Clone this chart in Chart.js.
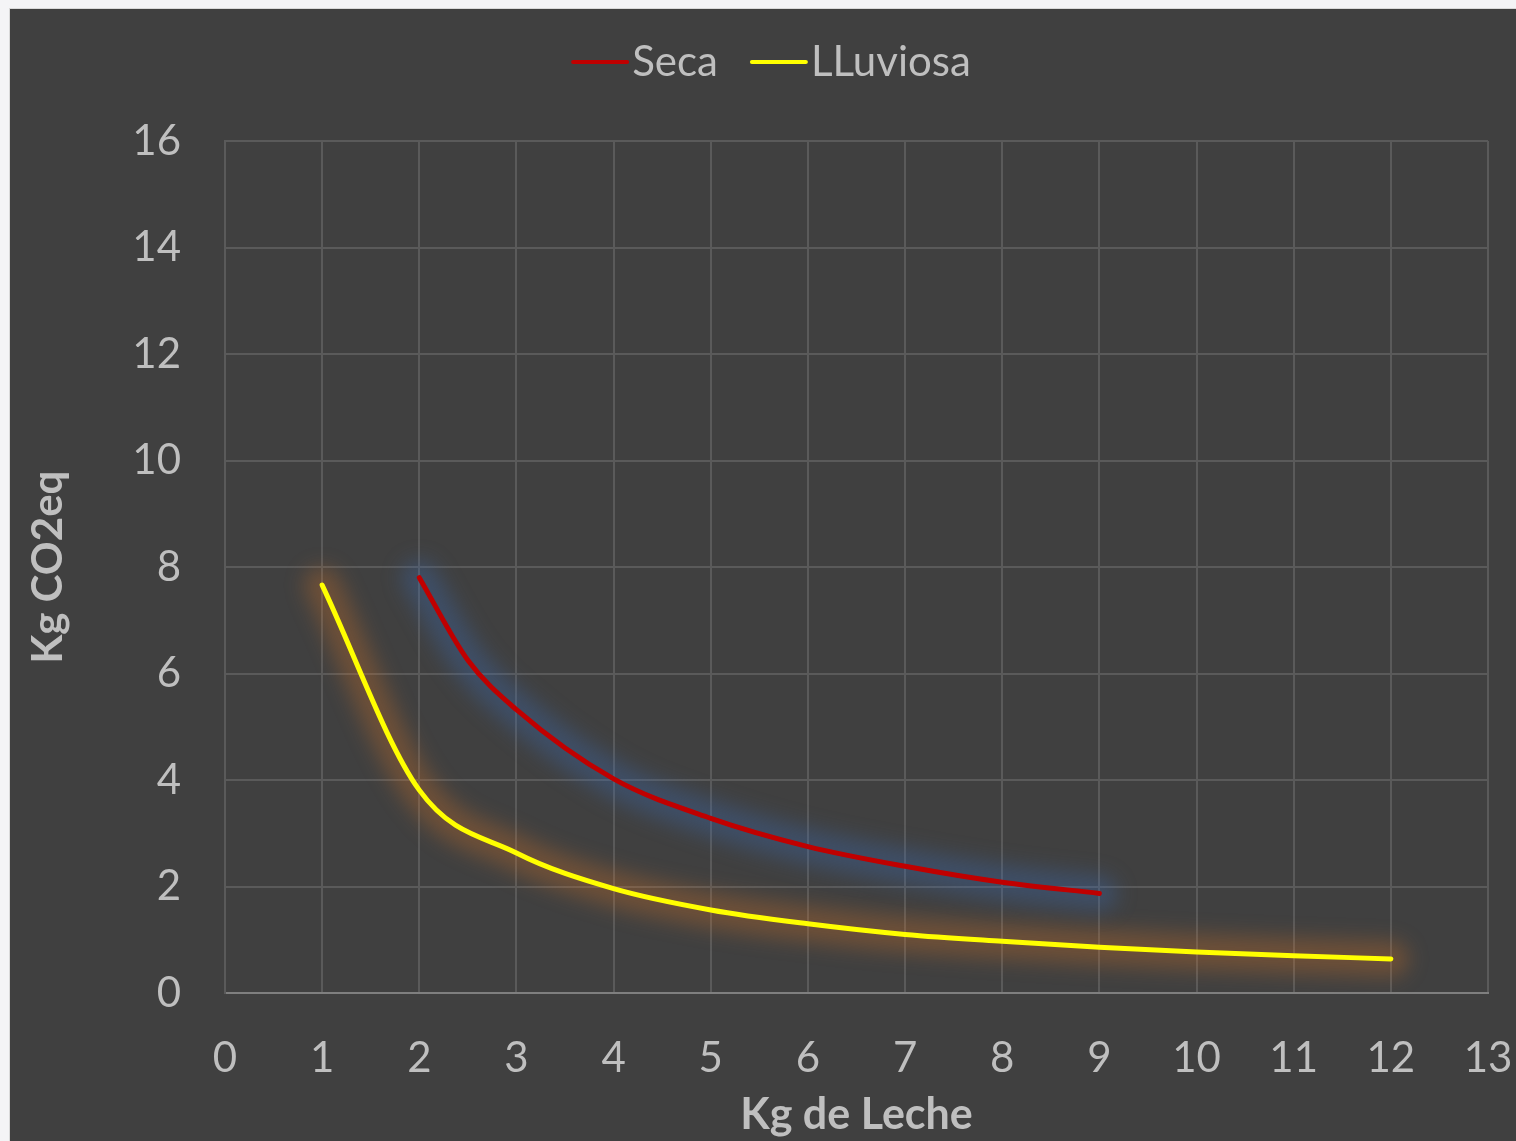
<!DOCTYPE html>
<html>
<head>
<meta charset="utf-8">
<script src="https://cdn.jsdelivr.net/npm/chart.js@4.4.1/dist/chart.umd.min.js"></script>
<style>
  html, body { margin: 0; padding: 0; background: #f4f4f6; }
  #frame {
    position: absolute; left: 9px; top: 8px; width: 1507px; height: 1133px;
    background: #d9d9d9;
  }
  #wrap {
    position: absolute; left: 1px; top: 1px; width: 1506px; height: 1132px;
    background: #404040;
  }
  canvas { display: block; }
</style>
</head>
<body>
<div id="frame"><div id="wrap"><canvas id="chart" width="1506" height="1132"></canvas></div></div>
<script>
// Milk production (kg) vs. emissions (kg CO2eq), dry and rainy season
const secaX = [2, 2.5, 3, 4, 5, 6, 7, 8, 9];
const secaY = [7.8, 6.25, 5.32, 4.02, 3.28, 2.75, 2.38, 2.08, 1.87];

const lluviosaX = [1, 2, 3, 4, 5, 6, 7, 8, 9, 10, 11, 12];
const lluviosaY = [7.66, 3.81, 2.63, 1.96, 1.56, 1.3, 1.1, 0.97, 0.86, 0.77, 0.7, 0.64];

const xTicks = [0, 1, 2, 3, 4, 5, 6, 7, 8, 9, 10, 11, 12, 13];
const yTicks = [0, 2, 4, 6, 8, 10, 12, 14, 16];

const seriesNames = ['Seca', 'LLuviosa'];
const seriesColors = ['#C00000', '#FFFF00'];
const glowColors = ['rgba(60,105,175,0.34)', 'rgba(215,115,35,0.3)'];

const textColor = '#BFBFBF';
const fontFamily = 'Lato, "Open Sans", sans-serif';

const toPoints = (xs, ys) => xs.map((x, i) => ({ x, y: ys[i] }));

const lineSeries = (label, pts, color) => ({
  label, data: pts, showLine: true,
  borderColor: color, backgroundColor: color,
  borderWidth: 5, pointRadius: 0,
  cubicInterpolationMode: 'monotone', borderCapStyle: 'round',
  order: 1
});

// wide blurred copy of a series, drawn underneath it as a halo
const haloSeries = (pts, color) => ({
  label: '', data: pts, showLine: true, isHalo: true,
  borderColor: color, backgroundColor: color,
  borderWidth: 36, pointRadius: 0,
  cubicInterpolationMode: 'monotone', borderCapStyle: 'round', borderJoinStyle: 'round',
  order: 5
});

const haloPlugin = {
  id: 'halo',
  beforeDatasetDraw(chart, args) {
    const ctx = chart.ctx;
    ctx.save();
    if (chart.data.datasets[args.index].isHalo) ctx.filter = 'blur(10px)';
  },
  afterDatasetDraw(chart) {
    chart.ctx.restore();
  }
};

// legend row centred above the plot: short line + series name
const lineLegend = {
  id: 'lineLegend',
  afterDraw(chart) {
    const ctx = chart.ctx;
    ctx.save();
    ctx.font = '42px ' + fontFamily;
    const lineLen = 54, gapText = 5, gapItem = 34;
    const items = chart.data.datasets.filter(ds => !ds.isHalo).map(ds => ({
      label: ds.label, color: ds.borderColor, w: lineLen + gapText + ctx.measureText(ds.label).width
    }));
    const total = items.reduce((s, it) => s + it.w, 0) + gapItem * (items.length - 1);
    let x = (chart.width - total) / 2 + 9;
    const y = 53;
    items.forEach(it => {
      ctx.strokeStyle = it.color;
      ctx.lineWidth = 4;
      ctx.lineCap = 'round';
      ctx.beginPath();
      ctx.moveTo(x, y);
      ctx.lineTo(x + lineLen, y);
      ctx.stroke();
      ctx.fillStyle = textColor;
      ctx.textBaseline = 'middle';
      ctx.textAlign = 'left';
      ctx.fillText(it.label, x + lineLen + gapText, y);
      x += it.w + gapItem;
    });
    ctx.restore();
  }
};

const secaPts = toPoints(secaX, secaY);
const lluviosaPts = toPoints(lluviosaX, lluviosaY);

new Chart(document.getElementById('chart'), {
  type: 'scatter',
  data: {
    datasets: [
      lineSeries(seriesNames[0], secaPts, seriesColors[0]),
      lineSeries(seriesNames[1], lluviosaPts, seriesColors[1]),
      haloSeries(secaPts, glowColors[0]),
      haloSeries(lluviosaPts, glowColors[1])
    ]
  },
  options: {
    responsive: false,
    animation: false,
    layout: { padding: { top: 132, right: 28, bottom: 0, left: 0 } },
    plugins: {
      legend: { display: false },
      tooltip: { enabled: false }
    },
    scales: {
      x: {
        type: 'linear',
        min: 0, max: 13,
        afterBuildTicks: s => { s.ticks = xTicks.map(v => ({ value: v })); },
        afterFit: s => { s.height = 148; s.paddingLeft = 0; s.paddingRight = 0; },
        grid: { color: '#5A5A5A', lineWidth: 2, drawTicks: false },
        border: { color: '#7F7F7F', width: 2 },
        ticks: { color: textColor, font: { family: fontFamily, size: 42 }, padding: 40, maxRotation: 0 },
        title: {
          display: true, text: 'Kg de Leche', color: textColor,
          font: { family: fontFamily, size: 43, weight: 'bold' }, padding: { top: 0, bottom: 0 }
        }
      },
      y: {
        type: 'linear',
        min: 0, max: 16,
        afterBuildTicks: s => { s.ticks = yTicks.map(v => ({ value: v })); },
        afterFit: s => { s.width = 215; s.paddingTop = 0; s.paddingBottom = 0; },
        grid: { color: '#5A5A5A', lineWidth: 2, drawTicks: false },
        border: { color: '#5A5A5A', width: 2 },
        ticks: { color: textColor, font: { family: fontFamily, size: 42 }, padding: 44 },
        title: {
          display: true, text: 'Kg CO2eq', color: textColor,
          font: { family: fontFamily, size: 42, weight: 'bold' }, padding: { top: 13, bottom: 0 }
        }
      }
    }
  },
  plugins: [haloPlugin, lineLegend]
});
</script>
</body>
</html>
